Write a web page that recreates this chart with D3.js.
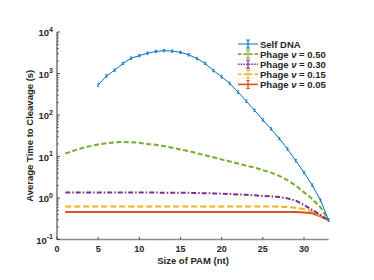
<!DOCTYPE html>
<html><head><meta charset="utf-8">
<script src="https://cdn.jsdelivr.net/npm/d3@7"></script>
<style>
html,body{margin:0;padding:0;background:#fff;}
svg{display:block;font-family:"Liberation Sans",Arial,sans-serif;}
</style></head>
<body>
<svg id="chart" width="374" height="280"></svg>
<script>
// ---------- data ----------
const selfX = d3.range(5, 34);
const selfY = [525, 871, 1202, 1738, 2344, 2692, 3090, 3388, 3548, 3467, 3236, 2818, 2291, 1738, 1175, 832, 575, 355, 214, 129, 76, 46, 27, 15.1, 7.9, 4.1, 2.04, 0.89, 0.29];
const phageX = d3.range(1, 34);
const phage50 = [11.7, 13.8, 15.8, 17.8, 19.5, 20.9, 21.9, 22.4, 22.1, 21.4, 20.0, 19.1, 17.8, 16.2, 14.8, 13.5, 12.0, 10.7, 9.55, 8.5, 7.6, 6.8, 6.0, 5.4, 4.7, 4.1, 3.4, 2.7, 2.0, 1.38, 0.95, 0.60, 0.29];
const phage30 = [1.35, 1.35, 1.35, 1.35, 1.35, 1.35, 1.35, 1.35, 1.35, 1.35, 1.35, 1.35, 1.34, 1.34, 1.34, 1.33, 1.32, 1.30, 1.29, 1.27, 1.25, 1.22, 1.19, 1.16, 1.12, 1.09, 1.05, 0.98, 0.86, 0.68, 0.52, 0.39, 0.29];
const phage15 = [0.62, 0.62, 0.62, 0.62, 0.62, 0.62, 0.62, 0.62, 0.62, 0.62, 0.62, 0.62, 0.62, 0.62, 0.62, 0.62, 0.62, 0.62, 0.62, 0.62, 0.62, 0.62, 0.62, 0.62, 0.62, 0.62, 0.62, 0.61, 0.58, 0.54, 0.47, 0.37, 0.29];
const phage05 = [0.46, 0.46, 0.46, 0.46, 0.46, 0.46, 0.46, 0.46, 0.46, 0.46, 0.46, 0.46, 0.46, 0.46, 0.46, 0.46, 0.46, 0.46, 0.46, 0.46, 0.46, 0.46, 0.46, 0.46, 0.46, 0.46, 0.46, 0.46, 0.46, 0.45, 0.43, 0.36, 0.29];
const xTicks = [0, 5, 10, 15, 20, 25, 30];
const yTickExps = [-1, 0, 1, 2, 3, 4];
const seriesNames = ["Self DNA", "Phage", "Phage", "Phage", "Phage"];
const seriesNu = [null, "0.50", "0.30", "0.15", "0.05"];
const xLabel = "Size of PAM (nt)";
const yLabel = "Average Time to Cleavage (s)";

// ---------- layout ----------
const svg = d3.select("#chart");
const x = d3.scaleLinear().domain([0, 33]).range([57, 328.7]);
const y = d3.scaleLog().domain([0.1, 10000]).range([239.5, 32]);
const textCol = "#262626";

const series = [
  {xs: selfX, ys: selfY, color: "#0072BD", width: 1, dash: null, err: true},
  {xs: phageX, ys: phage50, color: "#77AC30", width: 2, dash: "5,2.5", err: false},
  {xs: phageX, ys: phage30, color: "#7E2F8E", width: 2, dash: "5,2,1.5,2", err: false},
  {xs: phageX, ys: phage15, color: "#EDB120", width: 2, dash: "6,3", err: false},
  {xs: phageX, ys: phage05, color: "#D95319", width: 2, dash: null, err: false}
];

// ---------- axes ----------
const gx = svg.append("g");
gx.append("line").attr("x1", x(0)).attr("x2", x(33)).attr("y1", y(0.1)).attr("y2", y(0.1))
  .attr("stroke", "#8c8c8c").attr("stroke-width", 1.6);
xTicks.forEach(t => {
  gx.append("line").attr("x1", x(t)).attr("x2", x(t)).attr("y1", y(0.1)).attr("y2", y(0.1) - 2.5)
    .attr("stroke", textCol).attr("stroke-width", 0.8);
  gx.append("text").attr("x", x(t)).attr("y", 252).attr("text-anchor", "middle")
    .attr("font-size", 9).attr("font-weight", "bold").attr("fill", textCol).text(t);
});
gx.append("text").attr("x", 193).attr("y", 264).attr("text-anchor", "middle")
  .attr("font-size", 9.5).attr("font-weight", "bold").attr("fill", textCol).text(xLabel);

const gy = svg.append("g");
gy.append("line").attr("x1", x(0)).attr("x2", x(0)).attr("y1", y(0.1)).attr("y2", y(10000))
  .attr("stroke", "#333").attr("stroke-width", 1);
yTickExps.forEach(e => {
  const v = Math.pow(10, e);
  gy.append("line").attr("x1", x(0)).attr("x2", x(0) + 3).attr("y1", y(v)).attr("y2", y(v))
    .attr("stroke", textCol).attr("stroke-width", 0.8);
  const t = gy.append("text").attr("x", 53).attr("y", y(v) + 4).attr("text-anchor", "end")
    .attr("font-size", 9.5).attr("font-weight", "bold").attr("fill", textCol);
  t.append("tspan").text("10");
  t.append("tspan").attr("dy", -4.5).attr("font-size", 7).text(e);
  if (e < 4) {
    for (let m = 2; m <= 9; m++) {
      const mv = m * v;
      gy.append("line").attr("x1", x(0)).attr("x2", x(0) + 1.8).attr("y1", y(mv)).attr("y2", y(mv))
        .attr("stroke", textCol).attr("stroke-width", 0.7);
    }
  }
});
svg.append("text").attr("transform", `translate(33,${(y(0.1) + y(10000)) / 2}) rotate(-90)`)
  .attr("text-anchor", "middle").attr("font-size", 9.5).attr("font-weight", "bold")
  .attr("fill", textCol).text(yLabel);

// ---------- lines ----------
const line = d3.line().x(d => x(d[0])).y(d => y(d[1]));
series.slice().reverse().forEach(s => {
  const pts = s.xs.map((xv, i) => [xv, s.ys[i]]);
  svg.append("path").datum(pts).attr("d", line).attr("fill", "none")
    .attr("stroke", s.color).attr("stroke-width", s.width)
    .attr("stroke-dasharray", s.dash).attr("stroke-linejoin", "round");
  if (s.err) {
    pts.forEach(p => {
      const cx = x(p[0]), cy = y(p[1]);
      svg.append("line").attr("x1", cx).attr("x2", cx).attr("y1", cy - 1.2).attr("y2", cy + 1.2)
        .attr("stroke", s.color).attr("stroke-width", 0.9);
      svg.append("line").attr("x1", cx - 1.2).attr("x2", cx + 1.2).attr("y1", cy - 1.2).attr("y2", cy - 1.2)
        .attr("stroke", s.color).attr("stroke-width", 0.8);
      svg.append("line").attr("x1", cx - 1.2).attr("x2", cx + 1.2).attr("y1", cy + 1.2).attr("y2", cy + 1.2)
        .attr("stroke", s.color).attr("stroke-width", 0.8);
    });
  }
});

// ---------- legend ----------
const lg = svg.append("g").attr("transform", "translate(238,44)");
series.forEach((s, i) => {
  const row = lg.append("g").attr("transform", `translate(0,${i * 10.1})`);
  row.append("line").attr("x1", 0).attr("x2", 20).attr("y1", 0).attr("y2", 0)
    .attr("stroke", s.color).attr("stroke-width", s.width === 1 ? 1 : 1.6)
    .attr("stroke-dasharray", i === 2 ? "1.5,1.2" : (s.dash ? "3.5,2" : null));
  row.append("line").attr("x1", 10).attr("x2", 10).attr("y1", -4).attr("y2", 4)
    .attr("stroke", s.color).attr("stroke-width", 1.2);
  row.append("line").attr("x1", 8).attr("x2", 12).attr("y1", -4).attr("y2", -4)
    .attr("stroke", s.color).attr("stroke-width", 1);
  row.append("line").attr("x1", 8).attr("x2", 12).attr("y1", 4).attr("y2", 4)
    .attr("stroke", s.color).attr("stroke-width", 1);
  const t = row.append("text").attr("x", 22).attr("y", 3.5).attr("font-size", 9.5)
    .attr("font-weight", "bold").attr("fill", textCol);
  if (seriesNu[i] === null) {
    t.text(seriesNames[i]);
  } else {
    t.append("tspan").text(seriesNames[i] + " ");
    t.append("tspan").attr("font-style", "italic").text("ν");
    t.append("tspan").text(" = " + seriesNu[i]);
  }
});
</script>
</body></html>
